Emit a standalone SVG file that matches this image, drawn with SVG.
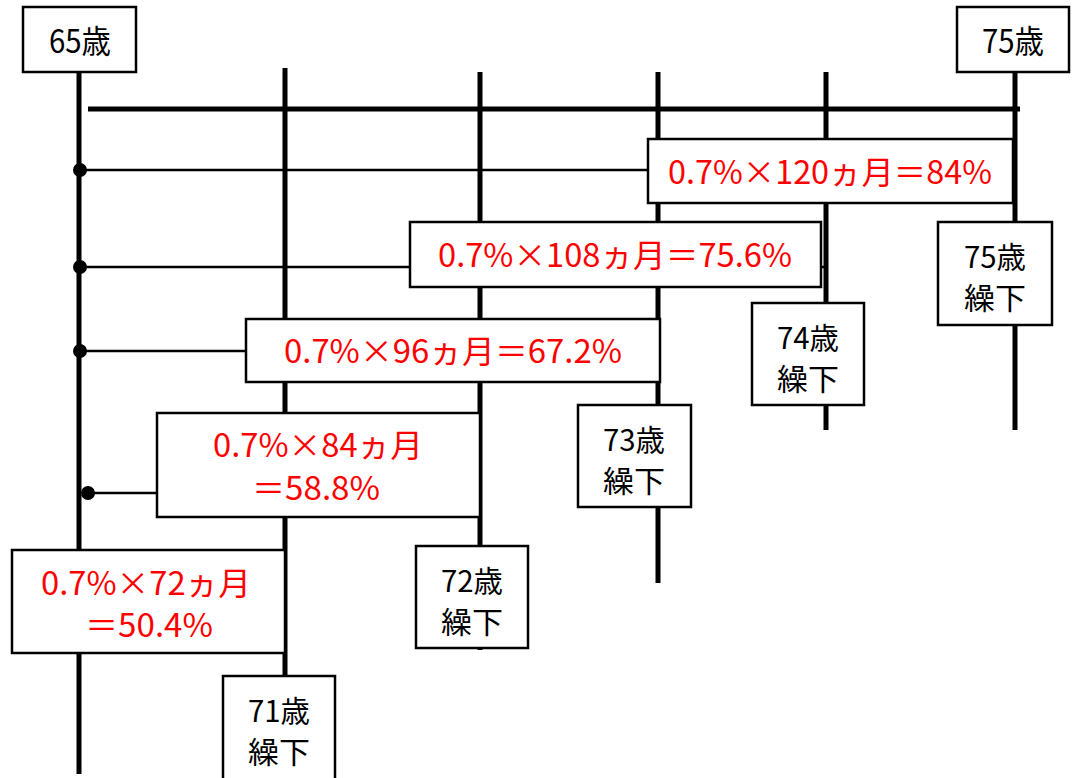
<svg xmlns="http://www.w3.org/2000/svg" width="1077" height="778" viewBox="0 0 1077 778">
<style>
.bx{fill:#fff;stroke:#000;stroke-width:2.5}
.th{stroke:#000;stroke-width:5;fill:none}
.tn{stroke:#000;stroke-width:2.5;fill:none}
.r{fill:#ff0000;font-family:"Noto Sans CJK JP","Noto Sans",sans-serif;font-size:32px;text-anchor:middle}
.k{fill:#000;font-family:"Noto Sans CJK JP","Noto Sans",sans-serif;font-size:32px;text-anchor:middle}
.k2{fill:#000;font-family:"Noto Sans CJK JP","Noto Sans",sans-serif;font-size:30px;text-anchor:middle}
</style>
<rect width="1077" height="778" fill="#fff"/>
<g id="connectors">
<line class="th" x1="79" y1="68" x2="79" y2="774"/>
<line class="th" x1="285" y1="68" x2="285" y2="676"/>
<line class="th" x1="480" y1="72" x2="480" y2="650"/>
<line class="th" x1="658" y1="72" x2="658" y2="583"/>
<line class="th" x1="826" y1="72" x2="826" y2="430"/>
<line class="th" x1="1015" y1="72" x2="1015" y2="430"/>
<line class="th" x1="88" y1="109" x2="1020" y2="109"/>
<line class="tn" x1="79" y1="170" x2="1015" y2="170"/>
<line class="tn" x1="79" y1="267" x2="826" y2="267"/>
<line class="tn" x1="79" y1="351" x2="658" y2="351"/>
<line class="tn" x1="88" y1="493" x2="480" y2="493"/>
<circle cx="80" cy="170" r="7"/>
<circle cx="80" cy="267" r="7"/>
<circle cx="80" cy="351" r="7"/>
<circle cx="88" cy="493" r="7"/>
</g>
<g id="n65">
<rect class="bx" x="23" y="7" width="113" height="65"/>
<text class="k" x="80" y="53" textLength="62" lengthAdjust="spacingAndGlyphs">65歳</text>
</g>
<g id="n75">
<rect class="bx" x="957" y="7" width="112" height="65"/>
<text class="k" x="1013" y="53" textLength="62" lengthAdjust="spacingAndGlyphs">75歳</text>
</g>
<g id="b120">
<rect class="bx" x="648" y="139" width="365" height="64"/>
<text class="r" x="830" y="184" textLength="324" lengthAdjust="spacingAndGlyphs">0.7%×120ヵ月＝84%</text>
</g>
<g id="b108">
<rect class="bx" x="410" y="222" width="411" height="65"/>
<text class="r" x="615" y="267" textLength="354" lengthAdjust="spacingAndGlyphs">0.7%×108ヵ月＝75.6%</text>
</g>
<g id="b96">
<rect class="bx" x="246" y="319" width="414" height="63"/>
<text class="r" x="453" y="363" textLength="338" lengthAdjust="spacingAndGlyphs">0.7%×96ヵ月＝67.2%</text>
</g>
<g id="b84">
<rect class="bx" x="157" y="413" width="323" height="104"/>
<text class="r" x="318" y="457" textLength="210" lengthAdjust="spacingAndGlyphs">0.7%×84ヵ月</text>
<text class="r" x="316" y="500" textLength="128" lengthAdjust="spacingAndGlyphs">＝58.8%</text>
</g>
<g id="b72">
<rect class="bx" x="12" y="550" width="273" height="103"/>
<text class="r" x="146" y="595" textLength="210" lengthAdjust="spacingAndGlyphs">0.7%×72ヵ月</text>
<text class="r" x="149" y="637" textLength="128" lengthAdjust="spacingAndGlyphs">＝50.4%</text>
</g>
<g id="d75">
<rect class="bx" x="938" y="222" width="114" height="103"/>
<text class="k2" x="995" y="268" textLength="62" lengthAdjust="spacingAndGlyphs">75歳</text>
<text class="k2" x="995" y="309" textLength="62" lengthAdjust="spacingAndGlyphs">繰下</text>
</g>
<g id="d74">
<rect class="bx" x="752" y="303" width="112" height="102"/>
<text class="k2" x="808" y="349" textLength="62" lengthAdjust="spacingAndGlyphs">74歳</text>
<text class="k2" x="808" y="390" textLength="62" lengthAdjust="spacingAndGlyphs">繰下</text>
</g>
<g id="d73">
<rect class="bx" x="578" y="405" width="113" height="102"/>
<text class="k2" x="634" y="451" textLength="62" lengthAdjust="spacingAndGlyphs">73歳</text>
<text class="k2" x="634" y="492" textLength="62" lengthAdjust="spacingAndGlyphs">繰下</text>
</g>
<g id="d72">
<rect class="bx" x="416" y="546" width="112" height="102"/>
<text class="k2" x="472" y="592" textLength="62" lengthAdjust="spacingAndGlyphs">72歳</text>
<text class="k2" x="472" y="633" textLength="62" lengthAdjust="spacingAndGlyphs">繰下</text>
</g>
<g id="d71">
<rect class="bx" x="223" y="676" width="112" height="110"/>
<text class="k2" x="279" y="722" textLength="62" lengthAdjust="spacingAndGlyphs">71歳</text>
<text class="k2" x="279" y="763" textLength="62" lengthAdjust="spacingAndGlyphs">繰下</text>
</g>
</svg>
